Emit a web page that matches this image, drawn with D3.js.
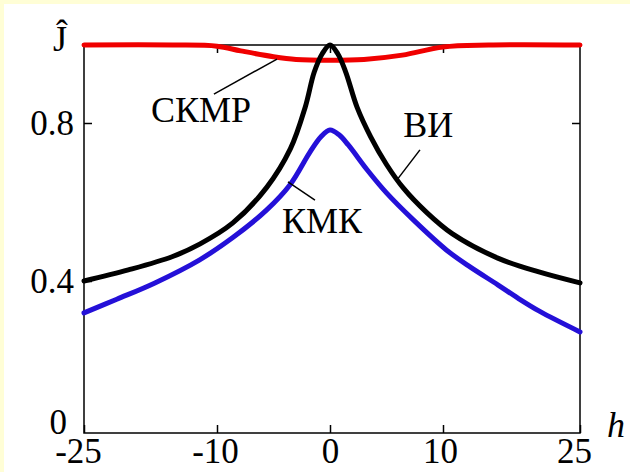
<!DOCTYPE html>
<html lang="ru">
<head>
<meta charset="utf-8">
<style>
  body { margin: 0; background: #fffed6; }
  svg { display: block; }
  text { font-family: "Liberation Serif", "Times New Roman", serif; font-size: 36px; fill: #000; }
  .tick line { stroke: #000; stroke-width: 1.5; }
  .tick text { font-size: 35px; }
</style>
</head>
<body>
<svg id="chart" width="630" height="472"></svg>
<script src="https://cdn.jsdelivr.net/npm/d3@7/dist/d3.min.js"></script>
<script>
// axis ticks
var hTicks = [-25, -10, 0, 10, 25];
var jTicks = [0, 0.4, 0.8, 1];

// ВИ (black)
var hVI = [-25, -20, -15, -11.9, -8.6, -5.6, -3.5, -2.2, -1.4, -0.7, 0, 0.7, 1.4, 2.4, 3.6, 5, 6.5, 8.5, 11, 16, 20.5, 25];
var jVI = [0.40, 0.428, 0.462, 0.494, 0.547, 0.637, 0.735, 0.84, 0.93, 0.977, 1.0, 0.977, 0.93, 0.84, 0.765, 0.695, 0.635, 0.575, 0.52, 0.458, 0.423, 0.395];

// КМК (blue)
var hKMK = [-25, -21.3, -17, -12, -8.6, -5.6, -3.5, -1.8, -0.8, 0, 0.8, 1.6, 3.3, 5, 7.4, 10.4, 13, 16, 18.2, 20.6, 25];
var jKMK = [0.316, 0.352, 0.395, 0.453, 0.51, 0.58, 0.645, 0.725, 0.765, 0.782, 0.77, 0.745, 0.681, 0.623, 0.554, 0.478, 0.435, 0.39, 0.355, 0.32, 0.266];

// СКМР (red)
var hSKMR = [-25, -15, -10, -7.9, -5, -3, 0, 3, 6.4, 10, 15, 25];
var jSKMR = [1.0, 1.0, 0.997, 0.985, 0.97, 0.963, 0.961, 0.963, 0.974, 0.995, 1.0, 1.0];

// labels: name, text point [h, J], leader from [h, J] to [h, J]
var labelNames = ["СКМР", "ВИ", "КМК"];
var labelAt = [[-11.8, 0.803], [8.7, 0.765], [-0.7, 0.522]];
var leaderFrom = [[-10.35, 0.874], [7.96, 0.732], [-1.33, 0.605]];
var leaderTo = [[-4.69, 0.964], [5.93, 0.656], [-3.72, 0.651]];

var svg = d3.select("#chart");

svg.append("rect")
    .attr("x", 4).attr("y", 4)
    .attr("width", 626).attr("height", 468)
    .attr("fill", "#fff");

// the axes are not evenly spaced in the original
var x = d3.scaleLinear().domain(hTicks).range([84, 217, 330, 443, 580]);
var y = d3.scaleLinear().domain(jTicks).range([433, 281, 123, 45]);

var x0 = x(-25), x1 = x(25), y0 = y(0), y1 = y(1);

svg.append("rect")
    .attr("x", x0).attr("y", y1)
    .attr("width", x1 - x0).attr("height", y0 - y1)
    .attr("fill", "none")
    .attr("stroke", "#000")
    .attr("stroke-width", 1.5);

// bottom ticks + labels
var gb = svg.append("g")
    .attr("transform", "translate(0," + y0 + ")")
    .call(d3.axisBottom(x).tickValues(hTicks).tickSize(-8).tickPadding(5)
        .tickFormat(function(d) { return String(d); }));
gb.select(".domain").remove();
gb.selectAll("text").attr("font-size", null).attr("font-family", null)
    .attr("dx", function(d) { return d == -25 ? -6 : d == 25 ? -6 : d == -10 ? -2 : d == 10 ? -3 : 0; });

// top ticks
var gt = svg.append("g")
    .attr("transform", "translate(0," + y1 + ")")
    .call(d3.axisTop(x).tickValues([-10, 0, 10]).tickSize(-8).tickFormat(""));
gt.select(".domain").remove();

// left ticks + labels
var gl = svg.append("g")
    .attr("transform", "translate(" + x0 + ",0)")
    .call(d3.axisLeft(y).tickValues([0.4, 0.8]).tickSize(-8).tickPadding(10)
        .tickFormat(function(d) { return String(d); }));
gl.select(".domain").remove();
gl.selectAll("text").attr("font-size", null).attr("font-family", null);

// right ticks
var gr = svg.append("g")
    .attr("transform", "translate(" + x1 + ",0)")
    .call(d3.axisRight(y).tickValues([0.4, 0.8]).tickSize(-8).tickFormat(""));
gr.select(".domain").remove();

// corner zero and axis names
svg.append("text").attr("x", x0 - 17).attr("y", y0 + 1)
    .attr("text-anchor", "end").style("font-size", "35px").text("0");
svg.append("text").attr("x", x0 - 24).attr("y", y1 + 6)
    .attr("text-anchor", "middle").text("Ĵ");
svg.append("text").attr("x", x1 + 27).attr("y", y0 + 4)
    .attr("font-style", "italic").text("h");

var line = d3.line()
    .x(function(d) { return x(d[0]); })
    .y(function(d) { return y(d[1]); })
    .curve(d3.curveCatmullRom.alpha(0.5));

function draw(hs, js, color) {
    svg.append("path")
        .datum(d3.zip(hs, js))
        .attr("d", line)
        .attr("fill", "none")
        .attr("stroke", color)
        .attr("stroke-width", 5)
        .attr("stroke-linecap", "round")
        .attr("stroke-linejoin", "round");
}

draw(hSKMR, jSKMR, "#f00000");
draw(hKMK, jKMK, "#2410d8");
draw(hVI, jVI, "#000");

// leaders
for (var i = 0; i < labelNames.length; i++) {
    svg.append("line")
        .attr("x1", x(leaderFrom[i][0])).attr("y1", y(leaderFrom[i][1]))
        .attr("x2", x(leaderTo[i][0])).attr("y2", y(leaderTo[i][1]))
        .attr("stroke", "#000").attr("stroke-width", 1.5);
    svg.append("text")
        .attr("x", x(labelAt[i][0])).attr("y", y(labelAt[i][1]))
        .attr("text-anchor", "middle")
        .text(labelNames[i]);
}
</script>
</body>
</html>
